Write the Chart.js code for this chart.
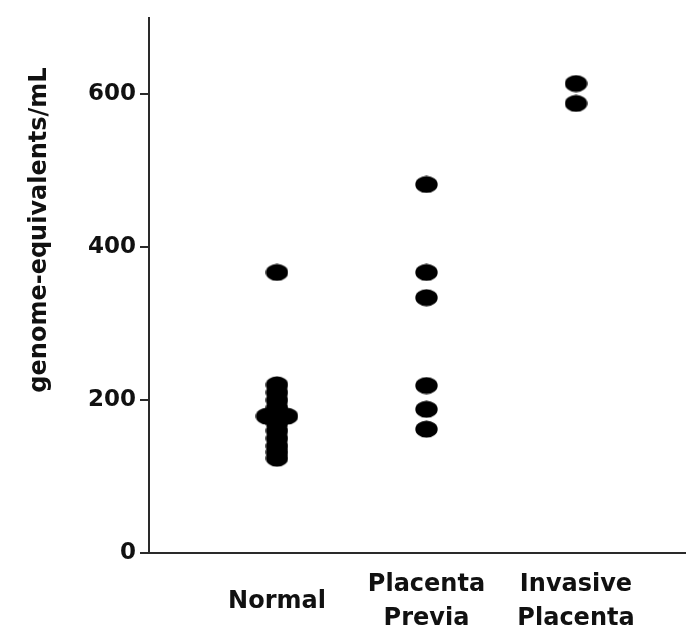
<!DOCTYPE html>
<html>
<head>
<meta charset="utf-8">
<script src="https://cdn.jsdelivr.net/npm/chart.js@4.4.1/dist/chart.umd.min.js"></script>
<style>
  html, body { margin: 0; padding: 0; background: #fff; }
  #grafico { display: block; }
</style>
</head>
<body>
<canvas id="grafico" width="687" height="633"></canvas>
<script>
// Dados
const categorias = ['Normal', ['Placenta', 'Previa'], ['Invasive', 'Placenta']];
const yTicks = [0, 200, 400, 600];
const yTitulo = 'genome-equivalents/mL';

const normalValores = [367, 220, 210, 200, 190, 179, 179, 179, 170, 160, 150, 140, 132, 124];
const normalDesvio  = [0, 0, 0, 0, 0, -0.067, 0, 0.067, 0, 0, 0, 0, 0, 0];
const previaValores = [482, 367, 334, 219, 188, 162];
const invasivaValores = [614, 588];

// Monta os pontos {x, y} para cada grupo
function pontos(grupo, valores, desvio) {
    return valores.map(function(v, i) {
        return { x: grupo + (desvio ? desvio[i] : 0), y: v };
    });
}

// Marcador eliptico (os pontos da figura sao ovais)
const marcador = document.createElement('canvas');
marcador.width = 23;
marcador.height = 18;
const mctx = marcador.getContext('2d');
mctx.fillStyle = '#000';
mctx.beginPath();
mctx.ellipse(11.5, 9, 11.2, 8.6, 0, 0, Math.PI * 2);
mctx.fill();

const fonteBase = 'DejaVu Sans';
const corEixo = '#2a2a2a';

// Titulo vertical do eixo y desenhado a mao
const tituloY = {
    id: 'tituloY',
    afterDraw: function(chart) {
        const ctx = chart.ctx;
        ctx.save();
        ctx.translate(40, 230);
        ctx.rotate(-Math.PI / 2);
        ctx.font = 'bold 24px "' + fonteBase + '"';
        ctx.fillStyle = '#111';
        ctx.textAlign = 'center';
        ctx.textBaseline = 'middle';
        ctx.fillText(yTitulo, 0, 0);
        ctx.restore();
    }
};

const conjunto = function(dados) {
    return {
        data: dados,
        pointStyle: marcador,
        pointRadius: 11,
        backgroundColor: '#000',
        borderColor: '#000',
        showLine: false
    };
};

new Chart(document.getElementById('grafico'), {
    type: 'scatter',
    data: {
        datasets: [
            conjunto(pontos(1, normalValores, normalDesvio)),
            conjunto(pontos(2, previaValores)),
            conjunto(pontos(3, invasivaValores))
        ]
    },
    options: {
        responsive: false,
        animation: false,
        layout: {
            autoPadding: false,
            padding: { top: 10, right: 2, left: 0, bottom: 0 }
        },
        plugins: {
            legend: { display: false },
            tooltip: { enabled: false }
        },
        scales: {
            x: {
                type: 'linear',
                min: 0.144,
                max: 3.729,
                afterBuildTicks: function(scale) {
                    scale.ticks = [{ value: 1 }, { value: 2 }, { value: 3 }];
                },
                afterFit: function(scale) { scale.height = 80; },
                grid: { drawOnChartArea: false, drawTicks: false },
                border: { display: true, color: corEixo, width: 2 },
                ticks: {
                    padding: 32,
                    color: '#111',
                    maxRotation: 0,
                    autoSkip: false,
                    crossAlign: 'center',
                    font: { family: fonteBase, size: 24, weight: 'bold', lineHeight: 1.4 },
                    callback: function(value) {
                        return categorias[Math.round(value) - 1];
                    }
                }
            },
            y: {
                min: 0,
                max: 700,
                afterBuildTicks: function(scale) {
                    scale.ticks = yTicks.map(function(v) { return { value: v }; });
                },
                afterFit: function(scale) { scale.width = 149; },
                grid: {
                    drawOnChartArea: false,
                    drawTicks: true,
                    tickLength: 9,
                    color: corEixo,
                    lineWidth: 2
                },
                border: { display: true, color: corEixo, width: 2 },
                ticks: {
                    padding: 4,
                    color: '#111',
                    font: { family: fonteBase, size: 23, weight: 'bold' }
                }
            }
        }
    },
    plugins: [tituloY]
});
</script>
</body>
</html>
